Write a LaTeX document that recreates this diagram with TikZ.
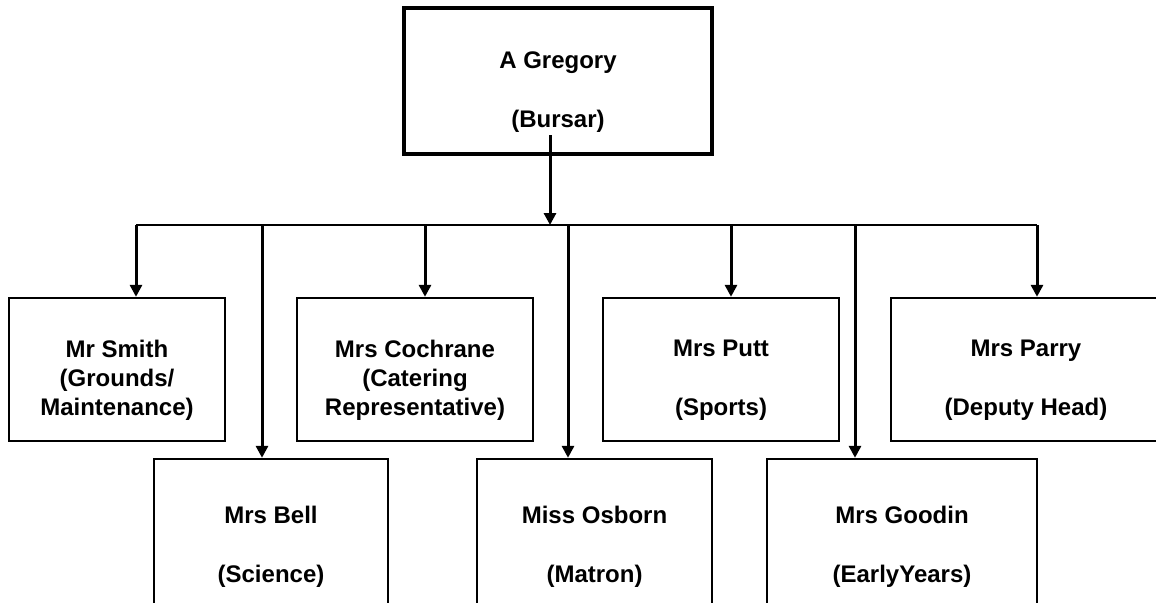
\documentclass[tikz,border=0pt]{standalone}
\usepackage{fontspec}
\setmainfont{Liberation Sans}
\usepackage{tikz}
\usetikzlibrary{arrows.meta}

\tikzset{
  post/.style = {draw, rectangle, line width=1.2pt, inner sep=0pt, minimum height=71.5pt},
  boss/.style = {post, line width=2.2pt, minimum width=154pt, minimum height=73pt},
  lowpost/.style = {post, minimum height=90pt},
  who/.style = {font=\bfseries\fontsize{12}{14.5}\selectfont, align=center, inner sep=0pt},
  feed/.style = {-{Triangle[length=6pt, width=6pt]}, line width=1.5pt},
}

\begin{document}
\begin{tikzpicture} [x=0.5pt, y=-0.5pt]
        \useasboundingbox [fill=white] (0,0) rectangle (1156,602);
        \clip (0,0) rectangle (1156,602);

        % bursar
        \node (gregory) [boss] at (558,81) {};
        \node (gregory-t) [who] at (558,92) {A Gregory\\[15pt](Bursar)};

        % first row
        \node (smith) [post, minimum width=108pt] at (117,369.5) {};
        \node (cochrane) [post, minimum width=118pt] at (415,369.5) {};
        \node (putt) [post, minimum width=118pt] at (721,369.5) {};
        \node (parry) [post, minimum width=135pt] at (1026,369.5) {};
        \node (smith-t) [who] at (117,380) {Mr Smith\\(Grounds/\\Maintenance)};
        \node (cochrane-t) [who] at (415,380) {Mrs Cochrane\\(Catering\\Representative)};
        \node (putt-t) [who] at (721,380) {Mrs Putt\\[15pt](Sports)};
        \node (parry-t) [who] at (1026,380) {Mrs Parry\\[15pt](Deputy Head)};

        % second row
        \node (bell) [lowpost, minimum width=117pt] at (271,549) {};
        \node (osborn) [lowpost, minimum width=117.5pt] at (594.5,549) {};
        \node (goodin) [lowpost, minimum width=135pt] at (902,549) {};
        \node (bell-t) [who] at (271,547) {Mrs Bell\\[15pt](Science)};
        \node (osborn-t) [who] at (594.5,547) {Miss Osborn\\[15pt](Matron)};
        \node (goodin-t) [who] at (902,547) {Mrs Goodin\\[15pt](EarlyYears)};

        % the bar and the drops
        \coordinate (tap) at (550,135);
        \coordinate (bar-w) at (136,225);
        \coordinate (bar-e) at (1037,225);
        \draw [line width=1pt] (bar-w) -- (bar-e);
        \draw [feed] (tap) -- (tap |- bar-w);
        \foreach \who/\x in {smith/136, bell/262, cochrane/425, osborn/568,
                             putt/731, goodin/855, parry/1037} {
            \coordinate (drop-\who) at (\x,225);
            \draw [feed] (drop-\who) -- (drop-\who |- \who.north);
        }

    \end{tikzpicture}
\end{document}
